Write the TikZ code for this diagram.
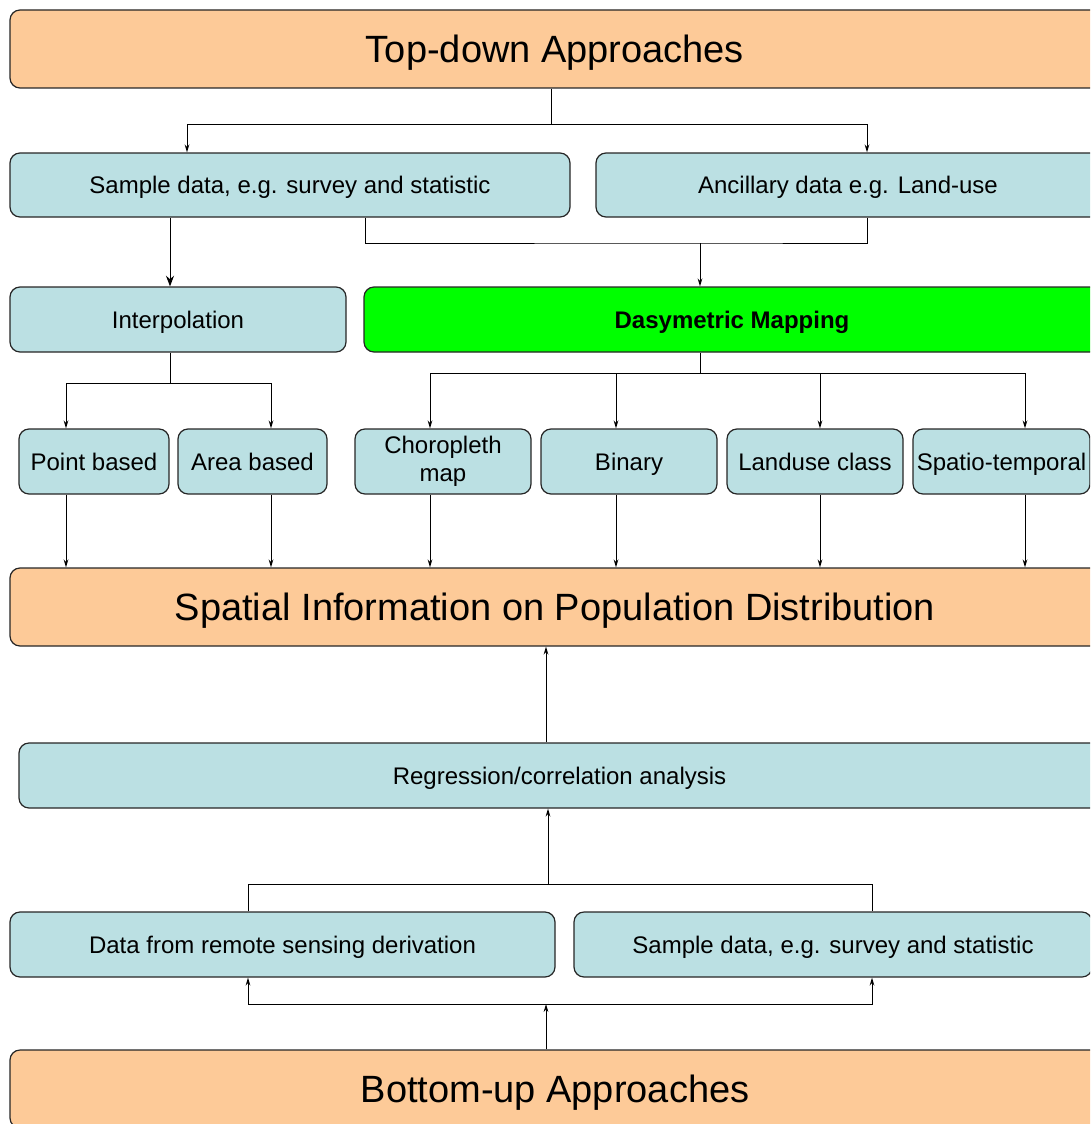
\documentclass[tikz,border=0pt]{standalone}
\usepackage{fontspec}
\setmainfont{Liberation Sans}
\usetikzlibrary{arrows.meta}
\definecolor{peach}{HTML}{FDCA98}
\definecolor{paleblue}{HTML}{BBE0E3}
\definecolor{brightgreen}{HTML}{00FF00}

% box from its corners (x1,y1)-(x2,y2), in pixel units
\newcommand\mkbox[7]{%
  \node[#1, minimum width={(#5-#3)*0.75pt}, minimum height={(#6-#4)*0.75pt}]
    (#2) at ({(#3+#5)/2},{(#4+#6)/2}) {#7};}

\begin{document}
\begin{tikzpicture}[x=0.75pt, y=-0.75pt,
  basebox/.style={rounded corners=7.5pt, draw=black!85, line width=0.9pt,
                  inner sep=0pt, text=black, align=center},
  bigbox/.style={basebox, fill=peach, font=\fontsize{28.5}{34}\selectfont,
                 text height=20.5pt, text depth=0pt},
  smallbox/.style={basebox, fill=paleblue, font=\fontsize{18}{21}\selectfont,
                   text height=13pt, text depth=0pt},
  twoline/.style={basebox, fill=paleblue, font=\fontsize{18}{21}\selectfont},
  keybox/.style={basebox, fill=brightgreen, font=\fontsize{18}{21}\selectfont\bfseries,
                 text height=13pt, text depth=0pt},
  conn/.style={draw=black, line width=0.75pt},
  arr/.style={conn, -{Stealth[length=6pt, width=3.5pt]}},
  bigarr/.style={conn, -{Stealth[length=8pt, width=6pt]}}]

\useasboundingbox (0,0) rectangle (1090,1124);
\clip (0,0) rectangle (1090,1124);

% top-down branch
\mkbox{bigbox}{topdown}{10}{10}{1100}{88}{Top-down Approaches}
\mkbox{smallbox}{sampleA}{10}{153}{570}{217}{Sample data, e.g. survey and statistic}
\mkbox{smallbox}{ancillary}{596}{153}{1100}{217}{Ancillary data e.g. Land-use}
\mkbox{smallbox}{interp}{10}{287}{346}{352}{Interpolation}
\mkbox{keybox}{dasy}{364}{287}{1100}{352}{Dasymetric Mapping}
\mkbox{smallbox}{point}{19}{429}{169}{494}{Point based}
\mkbox{smallbox}{area}{178}{429}{327}{494}{Area based}
\mkbox{twoline}{choro}{355}{429}{531}{494}{Choropleth\\map}
\mkbox{smallbox}{binary}{541}{429}{717}{494}{Binary}
\mkbox{smallbox}{landuse}{727}{429}{903}{494}{Landuse class}
\mkbox{smallbox}{spatio}{913}{429}{1090}{494}{Spatio-temporal}

% result
\mkbox{bigbox}{spatial}{10}{568}{1100}{646}{Spatial Information on Population Distribution}

% bottom-up branch
\mkbox{smallbox}{regress}{19}{743}{1100}{808}{Regression/correlation analysis}
\mkbox{smallbox}{remote}{10}{912}{555}{977}{Data from remote sensing derivation}
\mkbox{smallbox}{sampleB}{574}{912}{1092}{977}{Sample data, e.g. survey and statistic}
\mkbox{bigbox}{bottomup}{10}{1050}{1100}{1128}{Bottom-up Approaches}

% connectors, top-down
\draw[arr] (551,0 |- topdown.south) -- (551,124) -| (187,0 |- sampleA.north);
\draw[arr] (551,124) -| (867,0 |- ancillary.north);
\draw[bigarr] (170,0 |- sampleA.south) -- (170,0 |- interp.north);
\draw[conn] (365,0 |- sampleA.south) |- (700,243) -| (867,0 |- ancillary.south);
\draw[arr] (700,243) -- (700,0 |- dasy.north);

\draw[arr] (170,0 |- interp.south) -- (170,383) -| (66,0 |- point.north);
\draw[arr] (170,383) -| (271,0 |- area.north);

\draw[arr] (700,0 |- dasy.south) -- (700,373) -| (430,0 |- choro.north);
\draw[arr] (700,373) -| (616,0 |- binary.north);
\draw[arr] (700,373) -| (820,0 |- landuse.north);
\draw[arr] (700,373) -| (1025,0 |- spatio.north);

\draw[arr] (66,0 |- point.south) -- (66,0 |- spatial.north);
\draw[arr] (271,0 |- area.south) -- (271,0 |- spatial.north);
\draw[arr] (430,0 |- choro.south) -- (430,0 |- spatial.north);
\draw[arr] (616,0 |- binary.south) -- (616,0 |- spatial.north);
\draw[arr] (820,0 |- landuse.south) -- (820,0 |- spatial.north);
\draw[arr] (1025,0 |- spatio.south) -- (1025,0 |- spatial.north);

% connectors, bottom-up
\draw[arr] (546,0 |- regress.north) -- (546,0 |- spatial.south);
\draw[conn] (248,0 |- remote.north) |- (872,884) -- (872,0 |- sampleB.north);
\draw[arr] (548,884) -- (548,0 |- regress.south);
\draw[arr] (546,0 |- bottomup.north) -- (546,1004);
\draw[arr] (546,1004) -| (248,0 |- remote.south);
\draw[arr] (546,1004) -| (872,0 |- sampleB.south);
\end{tikzpicture}
\end{document}
